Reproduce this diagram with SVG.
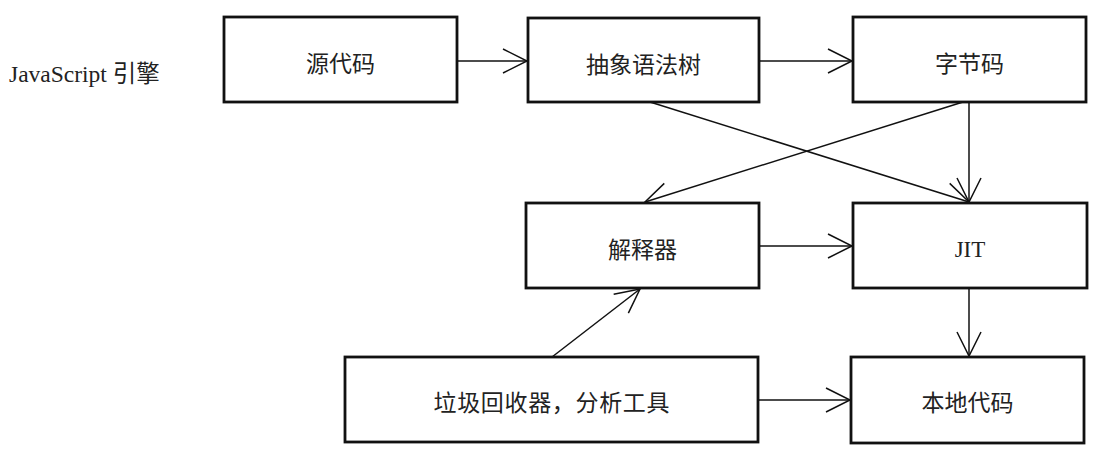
<svg xmlns="http://www.w3.org/2000/svg" width="1100" height="453" viewBox="0 0 1100 453">
<style>
.box{fill:#fff;stroke:#111;stroke-width:2.8}
.lbl{font-family:"Liberation Serif","Noto Sans CJK SC",serif;font-size:23px;fill:#222;text-anchor:middle}
.edge{stroke:#111;stroke-width:1.5;fill:none;marker-end:url(#arr)}
</style>
<defs>
<marker id="arr" markerUnits="userSpaceOnUse" viewBox="-26 -14 28 28" refX="0" refY="0" markerWidth="28" markerHeight="28" orient="auto">
<path d="M-24,-12 L0,0 L-24,12" fill="none" stroke="#111" stroke-width="1.5"/>
</marker>
</defs>
<rect width="1100" height="453" fill="#fff"/>
<text x="9" y="82" style="font-family:'Liberation Serif','Noto Sans CJK SC',serif;font-size:23.5px;fill:#222">JavaScript 引擎</text>
<g id="connectors">
<line class="edge" x1="457" y1="61" x2="527" y2="61"/>
<line class="edge" x1="759" y1="61" x2="852" y2="61"/>
<line class="edge" x1="650" y1="102" x2="969" y2="202"/>
<line class="edge" x1="963" y1="102" x2="645" y2="202"/>
<line class="edge" x1="969" y1="102" x2="969" y2="202"/>
<line class="edge" x1="759" y1="246" x2="852" y2="246"/>
<line class="edge" x1="969" y1="288" x2="969" y2="356"/>
<line class="edge" x1="552" y1="357" x2="640" y2="289"/>
<line class="edge" x1="758" y1="400" x2="850" y2="400"/>
</g>
<g id="source"><rect class="box" x="224" y="17" width="233" height="85"/><text class="lbl" x="340.5" y="72">源代码</text></g>
<g id="ast"><rect class="box" x="528" y="18" width="231" height="84"/><text class="lbl" x="643.5" y="73">抽象语法树</text></g>
<g id="bytecode"><rect class="box" x="853" y="17" width="233" height="85"/><text class="lbl" x="969.5" y="72">字节码</text></g>
<g id="interpreter"><rect class="box" x="526" y="203" width="233" height="85"/><text class="lbl" x="642.5" y="258">解释器</text></g>
<g id="jit"><rect class="box" x="853" y="203" width="234" height="85"/><text class="lbl" x="970" y="257">JIT</text></g>
<g id="gc"><rect class="box" x="345" y="357" width="413" height="85"/><text class="lbl" x="551.5" y="411" textLength="236" lengthAdjust="spacing">垃圾回收器，分析工具</text></g>
<g id="native"><rect class="box" x="851" y="357" width="233" height="86"/><text class="lbl" x="967.5" y="411">本地代码</text></g>
</svg>
